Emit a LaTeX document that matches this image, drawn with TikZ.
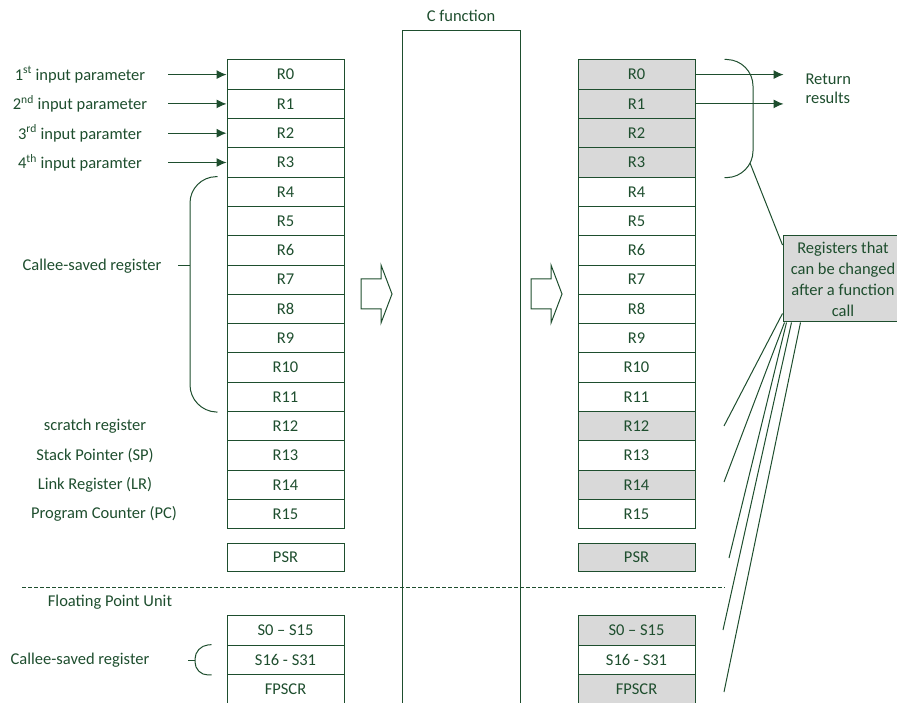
\documentclass[tikz,border=0pt]{standalone}
\usepackage{fontspec}
\setmainfont{Carlito}
\usetikzlibrary{arrows.meta}
\definecolor{ink}{RGB}{30,78,46}
\definecolor{shade}{RGB}{217,217,217}

\begin{document}
\begin{tikzpicture}[x=1pt, y=-1pt, line width=1pt, color=ink,
  font=\fontsize{16.5}{20}\selectfont,
  reg/.style={draw=ink, fill=white, minimum width=117pt, minimum height=29.3pt, inner sep=0pt},
  used/.style={reg, fill=shade},
  lbl/.style={inner sep=0pt},
  ret/.style={-{Latex[length=10pt,width=9pt]}}]
\useasboundingbox (0,0) rectangle (897,703);

% the called function
\node[lbl] (cfun) at (461,16) {C function};
\draw (402,703) -- (402,31) -- (520,31) -- (520,703);

% registers before the call
\node[reg] (l0) at (285.5,74.6) {R0};
\node[reg] (l1) at (285.5,103.9) {R1};
\node[reg] (l2) at (285.5,133.2) {R2};
\node[reg] (l3) at (285.5,162.5) {R3};
\node[reg] (l4) at (285.5,191.8) {R4};
\node[reg] (l5) at (285.5,221.1) {R5};
\node[reg] (l6) at (285.5,250.4) {R6};
\node[reg] (l7) at (285.5,279.7) {R7};
\node[reg] (l8) at (285.5,309.0) {R8};
\node[reg] (l9) at (285.5,338.3) {R9};
\node[reg] (l10) at (285.5,367.6) {R10};
\node[reg] (l11) at (285.5,396.9) {R11};
\node[reg] (l12) at (285.5,426.2) {R12};
\node[reg] (l13) at (285.5,455.5) {R13};
\node[reg] (l14) at (285.5,484.8) {R14};
\node[reg] (l15) at (285.5,514.1) {R15};
\node[reg, minimum height=28pt] (lpsr) at (285.5,557) {PSR};
\node[reg] (ls0) at (285.5,630.5) {S0 -- S15};
\node[reg] (ls16) at (285.5,659.8) {S16 - S31};
\node[reg] (lfp) at (285.5,689.1) {FPSCR};

% labels on the left
\node[lbl] (p0) at (80,74.6) {1\textsuperscript{st} input parameter};
\node[lbl] (p1) at (80,103.9) {2\textsuperscript{nd} input parameter};
\node[lbl] (p2) at (80,133.2) {3\textsuperscript{rd} input paramter};
\node[lbl] (p3) at (80,162.5) {4\textsuperscript{th} input paramter};
\draw[{Latex[length=10pt,width=9pt]}-] (l0.west) -- ++(-59,0);
\draw[{Latex[length=10pt,width=9pt]}-] (l1.west) -- ++(-59,0);
\draw[{Latex[length=10pt,width=9pt]}-] (l2.west) -- ++(-59,0);
\draw[{Latex[length=10pt,width=9pt]}-] (l3.west) -- ++(-59,0);

\node[lbl] (callee) at (92,266) {Callee-saved register};
\draw[rounded corners=26pt] ([xshift=-9pt]l4.north west) -- (190,177) -- (190,411) -- ([xshift=-9pt]l11.south west);
\draw (178,266) -- (190,266);

\node[lbl] (scratch) at (95,426.2) {scratch register};
\node[lbl] (sp) at (95,455.5) {Stack Pointer (SP)};
\node[lbl] (lr) at (95,484.8) {Link Register (LR)};
\node[lbl] (pc) at (104,514.1) {Program Counter (PC)};

% floating point part
\draw[dashed, dash pattern=on 4pt off 2pt, line width=0.8pt] (22,587) -- (725,587);
\node[lbl] (fpu) at (110,602) {Floating Point Unit};
\node[lbl] (callee2) at (80,660) {Callee-saved register};
\draw[rounded corners=13pt] ([xshift=-15pt]ls16.north west) -- (195,646) -- (195,675) -- ([xshift=-15pt]ls16.south west);
\draw (188,660) -- (195,660);

% block arrows
\draw (361,279) -- (381,279) -- (381,265) -- (392,294) -- (381,323) -- (381,309) -- (361,309) -- cycle;
\draw (531,279) -- (551,279) -- (551,265) -- (562,294) -- (551,323) -- (551,309) -- (531,309) -- cycle;

% registers after the call
\node[used] (r0) at (636.5,74.6) {R0};
\node[used] (r1) at (636.5,103.9) {R1};
\node[used] (r2) at (636.5,133.2) {R2};
\node[used] (r3) at (636.5,162.5) {R3};
\node[reg] (r4) at (636.5,191.8) {R4};
\node[reg] (r5) at (636.5,221.1) {R5};
\node[reg] (r6) at (636.5,250.4) {R6};
\node[reg] (r7) at (636.5,279.7) {R7};
\node[reg] (r8) at (636.5,309.0) {R8};
\node[reg] (r9) at (636.5,338.3) {R9};
\node[reg] (r10) at (636.5,367.6) {R10};
\node[reg] (r11) at (636.5,396.9) {R11};
\node[used] (r12) at (636.5,426.2) {R12};
\node[reg] (r13) at (636.5,455.5) {R13};
\node[used] (r14) at (636.5,484.8) {R14};
\node[reg] (r15) at (636.5,514.1) {R15};
\node[used, minimum height=28pt] (rpsr) at (636.5,557) {PSR};
\node[used] (rs0) at (636.5,630.5) {S0 -- S15};
\node[reg] (rs16) at (636.5,659.8) {S16 - S31};
\node[used] (rfp) at (636.5,689.1) {FPSCR};

% results
\draw[ret] (r0.east) -- ++(88,0);
\draw[ret] (r1.east) -- ++(88,0);
\node[lbl, anchor=west, align=left, font=\fontsize{16.5}{19}\selectfont] (res) at (805,89) {Return\\results};
\draw[rounded corners=26pt] ([xshift=29pt]r0.north east) -- (753,60) -- (753,177) -- ([xshift=29pt]r3.south east);

% note on changed registers
\node[draw, fill=shade, minimum width=120pt, minimum height=86pt, align=center, inner sep=0pt,
  font=\fontsize{16.5}{21}\selectfont] (note) at (843,279) {Registers that\\can be changed\\after a function\\call};
\coordinate (bend) at (750,163);
\coordinate (f12) at (724,426);
\coordinate (f14) at (724,482);
\coordinate (fpsr) at (729,558);
\coordinate (fs0) at (723,630);
\coordinate (ffp) at (724,692);
\draw (bend) -- ([yshift=34pt]note.west);
\draw ([yshift=9pt]note.south west) -- (f12);
\draw ([xshift=2pt]note.south west) -- (f14);
\draw ([xshift=4pt]note.south west) -- (fpsr);
\draw ([xshift=9pt]note.south west) -- (fs0);
\draw ([xshift=18pt]note.south west) -- (ffp);
\end{tikzpicture}
\end{document}
